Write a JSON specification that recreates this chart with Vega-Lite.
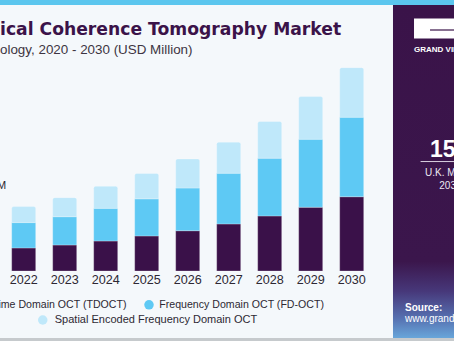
{
  "$schema": "https://vega.github.io/schema/vega-lite/v6.json",
  "width": 454,
  "height": 341,
  "autosize": {"type": "none"},
  "padding": 0,
  "background": "#f4f8fb",
  "config": {"view": {"stroke": null}},
  "title": {
    "text": "ical Coherence Tomography Market",
    "subtitle": "ology, 2020 - 2030 (USD Million)",
    "anchor": "start",
    "frame": "group",
    "orient": "top",
    "offset": -56,
    "font": "DejaVu Sans",
    "fontSize": 17.2,
    "fontWeight": "bold",
    "color": "#3b1349",
    "subtitleFont": "Liberation Sans",
    "subtitleFontSize": 13.4,
    "subtitleColor": "#3d3542",
    "subtitlePadding": 4
  },
  "data": {
    "values": [
      {"year": 2022, "series": "Time Domain OCT (TDOCT)", "rank": 1, "value": 17.3},
      {"year": 2022, "series": "Frequency Domain OCT (FD-OCT)", "rank": 2, "value": 19.0},
      {"year": 2022, "series": "Spatial Encoded Frequency Domain OCT", "rank": 3, "value": 12.0},
      {"year": 2023, "series": "Time Domain OCT (TDOCT)", "rank": 1, "value": 19.5},
      {"year": 2023, "series": "Frequency Domain OCT (FD-OCT)", "rank": 2, "value": 21.2},
      {"year": 2023, "series": "Spatial Encoded Frequency Domain OCT", "rank": 3, "value": 14.3},
      {"year": 2024, "series": "Time Domain OCT (TDOCT)", "rank": 1, "value": 22.5},
      {"year": 2024, "series": "Frequency Domain OCT (FD-OCT)", "rank": 2, "value": 24.5},
      {"year": 2024, "series": "Spatial Encoded Frequency Domain OCT", "rank": 3, "value": 16.5},
      {"year": 2025, "series": "Time Domain OCT (TDOCT)", "rank": 1, "value": 26.3},
      {"year": 2025, "series": "Frequency Domain OCT (FD-OCT)", "rank": 2, "value": 27.8},
      {"year": 2025, "series": "Spatial Encoded Frequency Domain OCT", "rank": 3, "value": 19.0},
      {"year": 2026, "series": "Time Domain OCT (TDOCT)", "rank": 1, "value": 30.2},
      {"year": 2026, "series": "Frequency Domain OCT (FD-OCT)", "rank": 2, "value": 32.0},
      {"year": 2026, "series": "Spatial Encoded Frequency Domain OCT", "rank": 3, "value": 21.8},
      {"year": 2027, "series": "Time Domain OCT (TDOCT)", "rank": 1, "value": 35.3},
      {"year": 2027, "series": "Frequency Domain OCT (FD-OCT)", "rank": 2, "value": 38.0},
      {"year": 2027, "series": "Spatial Encoded Frequency Domain OCT", "rank": 3, "value": 23.3},
      {"year": 2028, "series": "Time Domain OCT (TDOCT)", "rank": 1, "value": 41.3},
      {"year": 2028, "series": "Frequency Domain OCT (FD-OCT)", "rank": 2, "value": 43.3},
      {"year": 2028, "series": "Spatial Encoded Frequency Domain OCT", "rank": 3, "value": 27.5},
      {"year": 2029, "series": "Time Domain OCT (TDOCT)", "rank": 1, "value": 47.8},
      {"year": 2029, "series": "Frequency Domain OCT (FD-OCT)", "rank": 2, "value": 51.0},
      {"year": 2029, "series": "Spatial Encoded Frequency Domain OCT", "rank": 3, "value": 32.0},
      {"year": 2030, "series": "Time Domain OCT (TDOCT)", "rank": 1, "value": 55.7},
      {"year": 2030, "series": "Frequency Domain OCT (FD-OCT)", "rank": 2, "value": 59.6},
      {"year": 2030, "series": "Spatial Encoded Frequency Domain OCT", "rank": 3, "value": 37.2}
    ]
  },
  "layer": [
    {
      "data": {"values": [{}]},
      "mark": {"type": "rect", "color": "#5bc6ee"},
      "encoding": {
        "x": {"datum": 2021.422, "type": "quantitative", "scale": {"domain": [2021.422, 2032.495], "nice": false, "zero": false, "padding": 0}, "axis": null},
        "x2": {"datum": 2032.495},
        "y": {"datum": 203.25, "type": "quantitative", "scale": {"domain": [-52.5, 203.25], "nice": false, "zero": false, "padding": 0}, "axis": null},
        "y2": {"datum": 199.5}
      }
    },
    {
      "data": {"values": [{}]},
      "mark": {
        "type": "rect",
        "color": {
          "gradient": "linear", "x1": 0, "y1": 0, "x2": 0, "y2": 1,
          "stops": [
            {"offset": 0, "color": "#3a1349"},
            {"offset": 0.77, "color": "#3b164c"},
            {"offset": 0.86, "color": "#47387a"},
            {"offset": 0.94, "color": "#5670b0"},
            {"offset": 1, "color": "#68a6da"}
          ]
        }
      },
      "encoding": {
        "x": {"datum": 2031.007, "type": "quantitative", "axis": null},
        "x2": {"datum": 2032.495},
        "y": {"datum": 199.5, "type": "quantitative", "axis": null},
        "y2": {"datum": -50.25}
      }
    },
    {
      "data": {"values": [{}]},
      "mark": {"type": "rect", "color": "#c6cacd"},
      "encoding": {
        "x": {"datum": 2021.422, "type": "quantitative", "axis": null},
        "x2": {"datum": 2032.495},
        "y": {"datum": -50.25, "type": "quantitative", "axis": null},
        "y2": {"datum": -52.5}
      }
    },
    {
      "transform": [
        {"stack": "value", "groupby": ["year"], "sort": [{"field": "rank", "order": "ascending"}], "as": ["v0", "v1"]},
        {"filter": "datum.rank < 3"}
      ],
      "mark": {"type": "bar", "width": 24, "stroke": "#ffffff", "strokeOpacity": 0.5, "strokeWidth": 0.5},
      "encoding": {
        "x": {"field": "year", "type": "quantitative", "axis": null},
        "y": {"field": "v1", "type": "quantitative", "axis": null},
        "y2": {"field": "v0"},
        "color": {
          "field": "series", "type": "nominal",
          "scale": {"domain": ["Time Domain OCT (TDOCT)", "Frequency Domain OCT (FD-OCT)"], "range": ["#3a1149", "#5ec9f4"]},
          "legend": {
            "orient": "none", "legendX": -23.3, "legendY": 299.5, "direction": "horizontal", "title": null,
            "symbolType": "circle", "symbolSize": 90, "symbolStrokeWidth": 0,
            "labelFont": "Liberation Sans", "labelFontSize": 10.6, "labelColor": "#2d2833", "labelLimit": 400,
            "labelOffset": 5, "columnPadding": 17, "padding": 0
          }
        }
      }
    },
    {
      "transform": [
        {"stack": "value", "groupby": ["year"], "sort": [{"field": "rank", "order": "ascending"}], "as": ["v0", "v1"]},
        {"filter": "datum.rank == 3"}
      ],
      "mark": {"type": "bar", "width": 24, "cornerRadiusTopLeft": 2, "cornerRadiusTopRight": 2, "stroke": "#ffffff", "strokeOpacity": 0.5, "strokeWidth": 0.5},
      "encoding": {
        "x": {"field": "year", "type": "quantitative", "axis": null},
        "y": {"field": "v1", "type": "quantitative", "axis": null},
        "y2": {"field": "v0"},
        "color": {
          "field": "series", "type": "nominal",
          "scale": {"domain": ["Spatial Encoded Frequency Domain OCT"], "range": ["#bfe8fa"]},
          "legend": {
            "orient": "none", "legendX": 37.25, "legendY": 314.5, "direction": "horizontal", "title": null,
            "symbolType": "circle", "symbolSize": 90, "symbolStrokeWidth": 0,
            "labelFont": "Liberation Sans", "labelFontSize": 11, "labelColor": "#2d2833", "labelLimit": 400,
            "labelOffset": 6.5, "padding": 0
          }
        }
      }
    },
    {
      "transform": [{"filter": "datum.rank == 1"}],
      "mark": {"type": "text", "align": "center", "baseline": "alphabetic", "font": "Liberation Sans", "fontSize": 12.6, "color": "#2d2833"},
      "encoding": {
        "x": {"field": "year", "type": "quantitative", "axis": null},
        "y": {"datum": -9.75, "type": "quantitative", "axis": null},
        "text": {"field": "year", "type": "ordinal"}
      }
    },
    {
      "data": {"values": [{}]},
      "mark": {"type": "text", "text": "M", "align": "right", "baseline": "alphabetic", "font": "Liberation Sans", "fontSize": 11, "color": "#2d2833"},
      "encoding": {
        "x": {"datum": 2021.575, "type": "quantitative", "axis": null},
        "y": {"datum": 61.5, "type": "quantitative", "axis": null}
      }
    },
    {
      "data": {"values": [{}]},
      "mark": {"type": "rect", "color": "#ffffff"},
      "encoding": {
        "x": {"datum": 2031.5196, "type": "quantitative", "axis": null},
        "x2": {"datum": 2032.495},
        "y": {"datum": 189.4, "type": "quantitative", "axis": null},
        "y2": {"datum": 174.4}
      }
    },
    {
      "data": {"values": [{}]},
      "mark": {"type": "rule", "color": "#3a1349", "strokeWidth": 1.2},
      "encoding": {
        "x": {"datum": 2031.91, "type": "quantitative", "axis": null},
        "x2": {"datum": 2032.495},
        "y": {"datum": 180.75, "type": "quantitative", "axis": null}
      }
    },
    {
      "data": {"values": [{}]},
      "mark": {"type": "text", "text": "GRAND VIEW RESEARCH", "align": "left", "baseline": "alphabetic", "font": "Liberation Sans", "fontWeight": "bold", "fontSize": 8, "color": "#ffffff"},
      "encoding": {
        "x": {"datum": 2031.5196, "type": "quantitative", "axis": null},
        "y": {"datum": 164.5, "type": "quantitative", "axis": null}
      }
    },
    {
      "data": {"values": [{}]},
      "mark": {"type": "text", "text": "15", "align": "left", "baseline": "alphabetic", "font": "Liberation Sans", "fontWeight": "bold", "fontSize": 23, "color": "#ffffff"},
      "encoding": {
        "x": {"datum": 2031.91, "type": "quantitative", "axis": null},
        "y": {"datum": 85.5, "type": "quantitative", "axis": null}
      }
    },
    {
      "data": {"values": [{}]},
      "mark": {"type": "rule", "color": "#d8d0e0", "strokeWidth": 1},
      "encoding": {
        "x": {"datum": 2031.68, "type": "quantitative", "axis": null},
        "x2": {"datum": 2032.495},
        "y": {"datum": 82.1, "type": "quantitative", "axis": null}
      }
    },
    {
      "data": {"values": [{}]},
      "mark": {"type": "text", "text": "U.K. Market", "align": "left", "baseline": "alphabetic", "font": "Liberation Sans", "fontSize": 10, "color": "#ece8f2"},
      "encoding": {
        "x": {"datum": 2031.79, "type": "quantitative", "axis": null},
        "y": {"datum": 70.9, "type": "quantitative", "axis": null}
      }
    },
    {
      "data": {"values": [{}]},
      "mark": {"type": "text", "text": "2030", "align": "left", "baseline": "alphabetic", "font": "Liberation Sans", "fontSize": 10, "color": "#ece8f2"},
      "encoding": {
        "x": {"datum": 2032.136, "type": "quantitative", "axis": null},
        "y": {"datum": 61.5, "type": "quantitative", "axis": null}
      }
    },
    {
      "data": {"values": [{}]},
      "mark": {"type": "text", "text": "Source:", "align": "left", "baseline": "alphabetic", "font": "Liberation Sans", "fontWeight": "bold", "fontSize": 10, "color": "#ffffff"},
      "encoding": {
        "x": {"datum": 2031.3, "type": "quantitative", "axis": null},
        "y": {"datum": -30.0, "type": "quantitative", "axis": null}
      }
    },
    {
      "data": {"values": [{}]},
      "mark": {"type": "text", "text": "www.grandviewresearch.com", "align": "left", "baseline": "alphabetic", "font": "Liberation Sans", "fontSize": 10, "color": "#ffffff"},
      "encoding": {
        "x": {"datum": 2031.3, "type": "quantitative", "axis": null},
        "y": {"datum": -37.9, "type": "quantitative", "axis": null}
      }
    }
  ],
  "resolve": {"scale": {"color": "independent"}, "legend": {"color": "independent"}}
}
